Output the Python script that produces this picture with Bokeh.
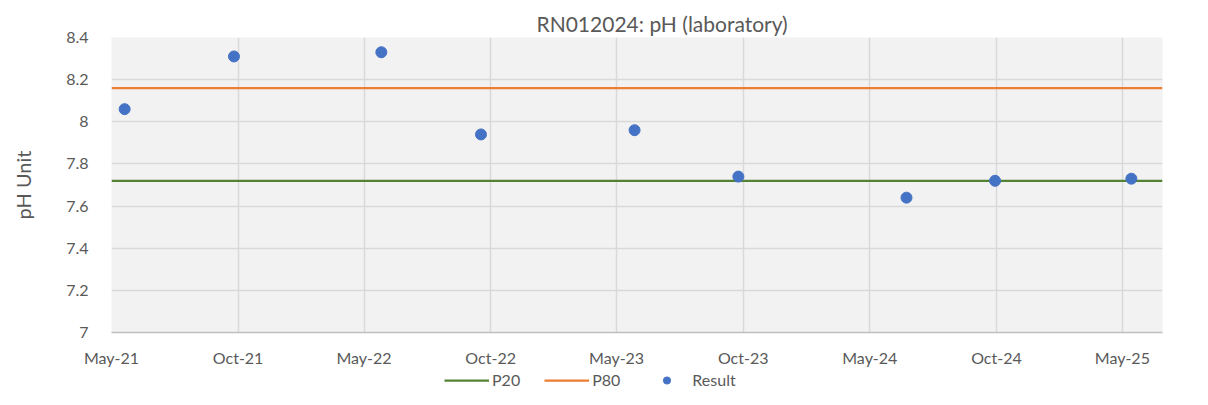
from datetime import datetime
from bokeh.plotting import figure
from bokeh.layouts import column
from bokeh.models import (Range1d, FixedTicker, DatetimeTickFormatter, NumeralTickFormatter,
                          Legend, LegendItem)
from bokeh.embed import file_html
from bokeh.resources import INLINE

# ---- data ----
sample_dates = ["2021-05-20", "2021-10-25", "2022-05-26", "2022-10-17", "2023-05-27",
                "2023-10-24", "2024-06-23", "2024-10-29", "2025-05-14"]
ph_result = [8.06, 8.31, 8.33, 7.94, 7.96, 7.74, 7.64, 7.72, 7.73]
p20_value = 7.72
p80_value = 8.16
tick_dates = ["2021-05-01", "2021-10-31", "2022-05-01", "2022-10-31", "2023-05-01",
              "2023-10-31", "2024-05-01", "2024-10-31", "2025-05-01"]
x_start, x_end = "2021-05-01", "2025-06-28"
y_ticks = [7, 7.2, 7.4, 7.6, 7.8, 8, 8.2, 8.4]
title_text = "RN012024: pH (laboratory)"
y_label = "pH Unit"

def to_dt(s):
    return datetime.strptime(s, "%Y-%m-%d")

def to_ms(s):
    return (to_dt(s) - datetime(1970, 1, 1)).total_seconds() * 1000.0

FONT = "Lato"
TXT = "#595959"
C20, C80, CRES = "#548235", "#ed7d31", "#4472c4"

xs = [to_dt(d) for d in sample_dates]
line_x = [to_dt(x_start), to_dt(x_end)]

p = figure(width=1192, height=369, x_axis_type="datetime",
           x_range=Range1d(to_dt(x_start), to_dt(x_end)),
           y_range=Range1d(y_ticks[0], y_ticks[-1]),
           output_backend="svg", toolbar_location=None,
           min_border_left=111, min_border_right=30, min_border_top=37, min_border_bottom=30,
           background_fill_color="#f2f2f2", border_fill_color="white",
           outline_line_color=None)

p.title.text = title_text
p.title.align = "left"
p.title.offset = 425
p.title.text_font = FONT
p.title.text_font_size = "21px"
p.title.text_font_style = "normal"
p.title.text_color = TXT
p.title.standoff = 3

# axes
p.xaxis.ticker = FixedTicker(ticks=[to_ms(d) for d in tick_dates])
fmt = "%b-%y"
p.xaxis.formatter = DatetimeTickFormatter(milliseconds=fmt, seconds=fmt, minsec=fmt, minutes=fmt,
                                          hourmin=fmt, hours=fmt, days=fmt, months=fmt, years=fmt)
p.yaxis.ticker = FixedTicker(ticks=y_ticks)
p.yaxis.formatter = NumeralTickFormatter(format="0.[0]")
for ax in (p.xaxis, p.yaxis):
    ax.major_tick_line_color = None
    ax.minor_tick_line_color = None
    ax.major_label_text_font = FONT
    ax.major_label_text_font_size = "16px"
    ax.major_label_text_color = TXT
p.xaxis.axis_line_color = "#bfbfbf"
p.xaxis.axis_line_width = 1.5
p.xaxis.major_label_standoff = 9
p.yaxis.axis_line_color = None
p.yaxis.major_label_standoff = 17
p.yaxis.axis_label = y_label
p.yaxis.axis_label_text_font = FONT
p.yaxis.axis_label_text_font_size = "20px"
p.yaxis.axis_label_text_font_style = "normal"
p.yaxis.axis_label_text_color = TXT
p.yaxis.axis_label_standoff = 28

p.xgrid.grid_line_color = "#d9d9d9"
p.ygrid.grid_line_color = "#d9d9d9"
p.xgrid.grid_line_width = 1.5
p.ygrid.grid_line_width = 1.5

p.line(line_x, [p20_value, p20_value], line_color=C20, line_width=2.25)
p.line(line_x, [p80_value, p80_value], line_color=C80, line_width=2.25)
p.scatter(xs, ph_result, size=11, fill_color=CRES, line_color=CRES)

# legend strip below the chart (same series, drawn outside its own view so only the key shows)
lg = figure(width=1192, height=20, x_range=Range1d(0, 1), y_range=Range1d(0, 1),
            output_backend="svg", toolbar_location=None,
            x_axis_location=None, y_axis_location=None, min_border=0,
            background_fill_color="white", border_fill_color="white", outline_line_color=None)
lg.grid.visible = False
l20 = lg.line([to_ms(x_start), to_ms(x_end)], [p20_value, p20_value], line_color=C20, line_width=2.25)
l80 = lg.line([to_ms(x_start), to_ms(x_end)], [p80_value, p80_value], line_color=C80, line_width=2.25)
lres = lg.scatter([to_ms(d) for d in sample_dates], ph_result, size=11, fill_color=CRES, line_color=CRES)

legend = Legend(items=[LegendItem(label="P20", renderers=[l20]),
                       LegendItem(label="P80", renderers=[l80]),
                       LegendItem(label="Result", renderers=[lres])],
                orientation="horizontal", location=(333, 0),
                glyph_width=45, glyph_height=18, label_standoff=3, spacing=24,
                padding=1, margin=0, border_line_color=None, background_fill_alpha=0,
                label_text_font=FONT, label_text_font_size="16px", label_text_color=TXT,
                label_height=18)
lg.add_layout(legend, "center")

layout = column(p, lg, spacing=0)
open("out.html", "w").write(file_html(layout, INLINE))
